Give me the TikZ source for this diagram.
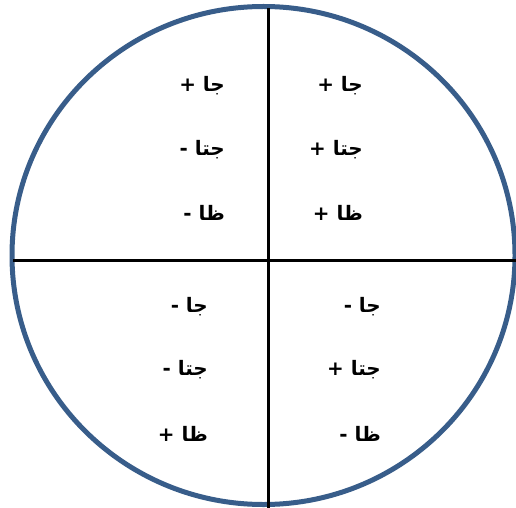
\documentclass[tikz,border=0pt]{standalone}
\usepackage{fontspec}
\TeXXeTstate=1
\newfontfamily\arabicfont[Script=Arabic]{DejaVu Sans}
\definecolor{rimblue}{HTML}{385D8A}
\tikzset{
  rim/.style={draw=rimblue, line width=5bp},
  axisline/.style={draw=black, line width=3bp},
  sign/.style={anchor=east, inner sep=0pt, font=\arabicfont\bfseries\fontsize{20}{24}\selectfont}
}
\begin{document}
\begin{tikzpicture}[x=1bp,y=-1bp]
\useasboundingbox (0,0) rectangle (516,508);
\draw[rim] (263.5,255.5) ellipse [x radius=251.5, y radius=249];
\coordinate (vtop) at (268,8);
\coordinate (vbot) at (268,508);
\coordinate (hleft) at (13,260);
\coordinate (hright) at (516,260);
\draw[axisline] (vtop) -- (vbot);
\draw[axisline] (hleft) -- (hright);
% top-left quadrant
\node[sign] (tl1) at (225,86) {\beginR جا +\endR};
\node[sign] (tl2) at (225,150) {\beginR جتا -\endR};
\node[sign] (tl3) at (225,213) {\beginR ظا -\endR};
% top-right quadrant
\node[sign] (tr1) at (363,86) {\beginR جا +\endR};
\node[sign] (tr2) at (363,150) {\beginR جتا +\endR};
\node[sign] (tr3) at (363,213) {\beginR ظا +\endR};
% bottom-left quadrant
\node[sign] (bl1) at (208,307) {\beginR جا -\endR};
\node[sign] (bl2) at (208,370) {\beginR جتا -\endR};
\node[sign] (bl3) at (208,434) {\beginR ظا +\endR};
% bottom-right quadrant
\node[sign] (br1) at (381,307) {\beginR جا -\endR};
\node[sign] (br2) at (381,370) {\beginR جتا +\endR};
\node[sign] (br3) at (381,434) {\beginR ظا -\endR};
\end{tikzpicture}
\end{document}
